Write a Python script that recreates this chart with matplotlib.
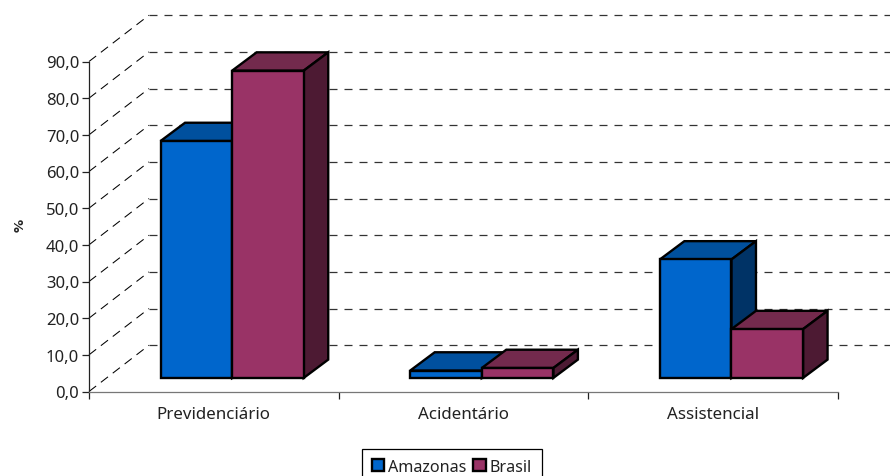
import matplotlib
matplotlib.use("Agg")
import matplotlib.pyplot as plt
from matplotlib.patches import Polygon, Patch

categories = ["Previdenciário", "Acidentário", "Assistencial"]
series_names = ["Amazonas", "Brasil"]
amazonas = [64.6, 2.0, 32.3]
brasil = [83.8, 2.7, 13.3]
y_ticks = [0, 10, 20, 30, 40, 50, 60, 70, 80, 90]

FRONT = ["#0066CC", "#993366"]
TOP = ["#00509E", "#732A4D"]
SIDE = ["#003366", "#4D1A33"]

W, H = 890, 477
plt.rcParams["font.family"] = ["Noto Sans", "DejaVu Sans"]
fig = plt.figure(figsize=(W / 100, H / 100), dpi=100)
L, R, B, T = 89, 838, 392.5, 62.5
ax = fig.add_axes([L / W, 1 - B / H, (R - L) / W, (B - T) / H])
ax.set_xlim(0, 3)
ax.set_ylim(0, 90)
px_x = 3 / (R - L)
px_y = 90 / (B - T)

wall_dx, wall_dy = 60 * px_x, 46.3 * px_y
bar_dx, bar_dy = 24.5 * px_x, 18.3 * px_y
inset_dx, inset_dy = 18.3 * px_x, 13.6 * px_y
bar_w = 71.6 * px_x
grid_end = 3 + (890 - R) * px_x

# back wall gridlines and floor/wall diagonals
for v in y_ticks:
    ax.plot([0, wall_dx], [v, v + wall_dy], color="black", lw=0.75,
            dashes=(9 / 0.75 * 0.72, 6 / 0.75 * 0.72), clip_on=False, zorder=1)
    ax.plot([wall_dx, grid_end], [v + wall_dy, v + wall_dy], color="#333333", lw=0.9,
            dashes=(8 / 0.9 * 0.72, 7 / 0.9 * 0.72), clip_on=False, zorder=1)

def bar3d(x0, v, i):
    x1 = x0 + bar_w
    y0 = inset_dy
    y1 = inset_dy + v
    kw = dict(edgecolor="black", lw=1.7, joinstyle="miter", clip_on=False, zorder=3)
    ax.add_patch(Polygon([(x0, y1), (x1, y1), (x1 + bar_dx, y1 + bar_dy), (x0 + bar_dx, y1 + bar_dy)],
                         facecolor=TOP[i], **kw))
    ax.add_patch(Polygon([(x1, y0), (x1 + bar_dx, y0 + bar_dy), (x1 + bar_dx, y1 + bar_dy), (x1, y1)],
                         facecolor=SIDE[i], **kw))
    ax.add_patch(Polygon([(x0, y0), (x1, y0), (x1, y1), (x0, y1)], facecolor=FRONT[i], **kw))

for c in range(len(categories)):
    x_left = c + 0.5 + inset_dx - bar_w
    bar3d(x_left, amazonas[c], 0)
    bar3d(x_left + bar_w, brasil[c], 1)

for s in ["top", "right"]:
    ax.spines[s].set_visible(False)
ax.spines["left"].set_color("#222222")
ax.spines["bottom"].set_color("#777777")
for s in ["left", "bottom"]:
    ax.spines[s].set_linewidth(0.9)
ax.patch.set_alpha(0)

ax.set_yticks(y_ticks)
ax.set_yticklabels([f"{v:.1f}".replace(".", ",") for v in y_ticks], fontsize=12, color="#222222")
ax.set_xticks([0, 1, 2, 3])
ax.set_xticklabels([])
ax.set_xticks([0.5, 1.5, 2.5], categories, minor=True, fontsize=12.2, color="#222222")
ax.tick_params(axis="x", which="minor", length=0, pad=10.5)
ax.tick_params(axis="x", which="major", length=5, width=0.9, color="#222222")
ax.tick_params(axis="y", length=5, width=0.9, color="#222222", pad=2)

fig.text(20 / W, 1 - 225 / H, "%", rotation=90, fontsize=9.5, fontweight="bold",
         family="DejaVu Sans", color="#222222", ha="center", va="center")

handles = [Patch(facecolor=FRONT[i], edgecolor="black", lw=1.7, label=series_names[i]) for i in range(2)]
leg = ax.legend(handles=handles, loc="upper left", ncol=2,
                bbox_to_anchor=(361.7 / W, 1 - 449.7 / H), bbox_transform=fig.transFigure,
                frameon=True, fancybox=False, framealpha=1, edgecolor="black",
                fontsize=11.6, borderaxespad=0, borderpad=0.62, handlelength=0.75, handleheight=0.75,
                handletextpad=0.25, columnspacing=0.45, labelcolor="#222222")
leg.get_frame().set_linewidth(0.9)

fig.savefig("out.png", dpi=100)
